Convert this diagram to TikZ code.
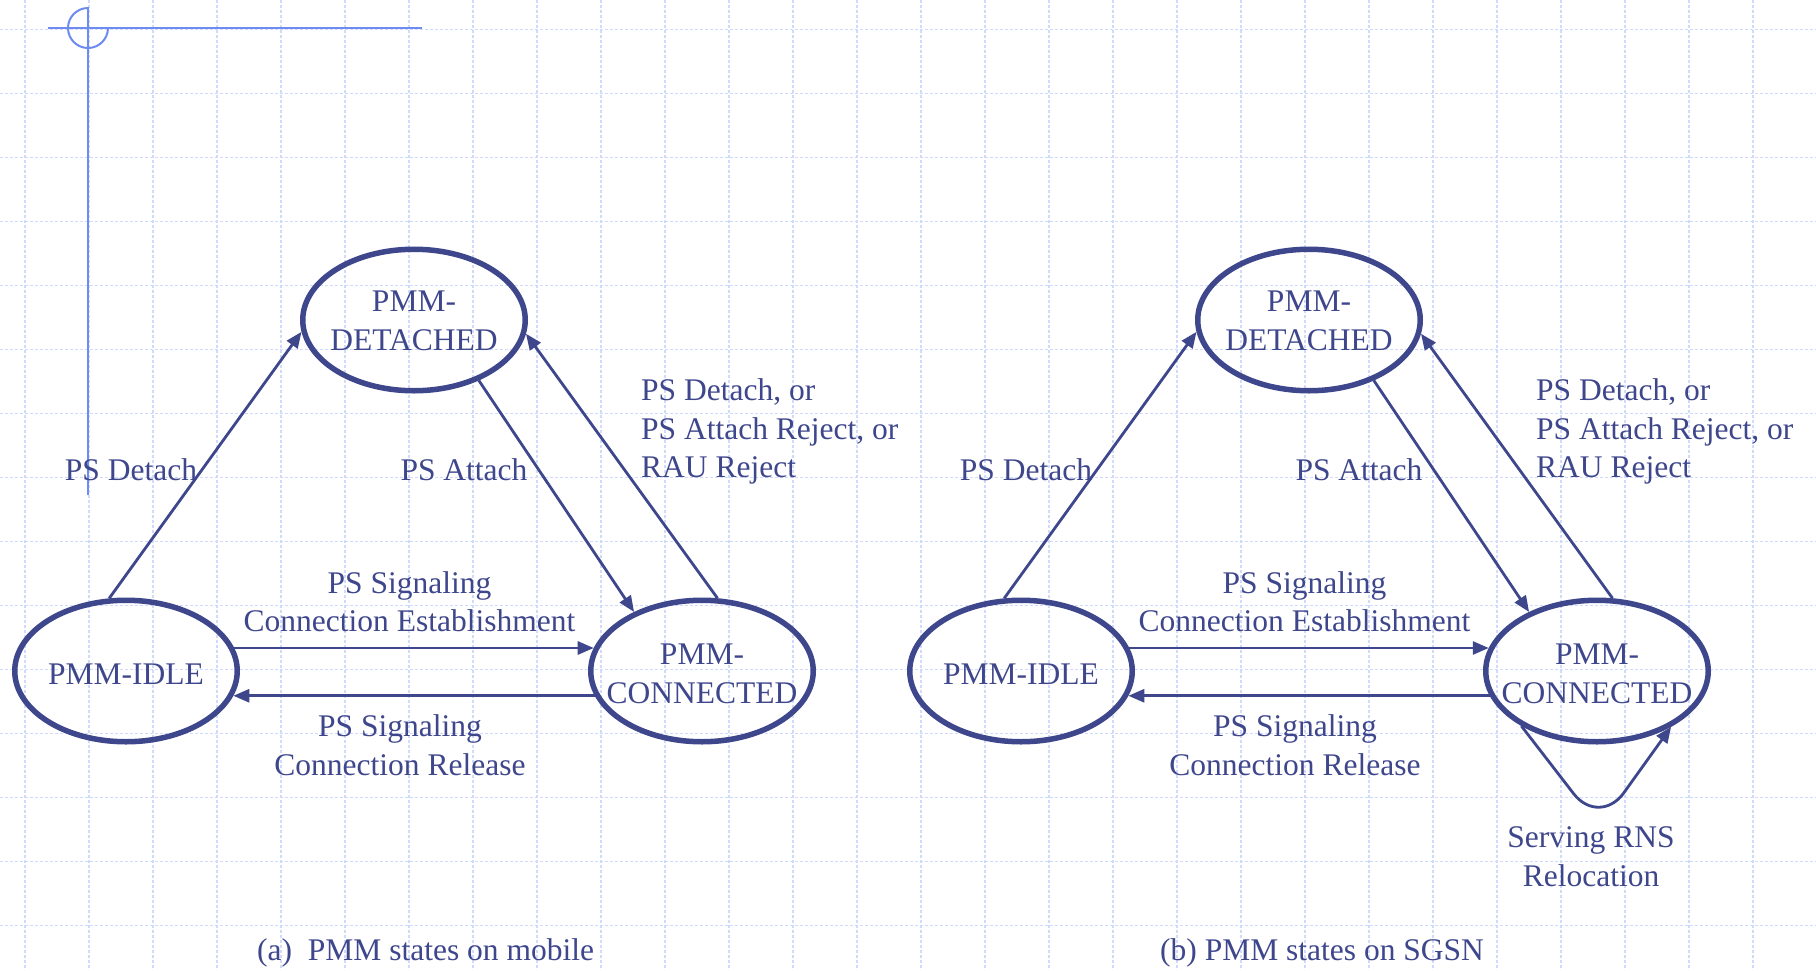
\documentclass[tikz,border=0pt]{standalone}
\usepackage{fontspec}
\setmainfont{Liberation Serif}
\usetikzlibrary{arrows.meta,shapes.geometric}
\definecolor{navy}{RGB}{62,70,140}
\definecolor{gridc}{RGB}{208,218,252}
\definecolor{deco}{RGB}{110,140,240}
\begin{document}
\begin{tikzpicture}[x=1pt,y=-1pt,
  state/.style={ellipse, draw=navy, line width=5.5pt, minimum width=222.5pt, minimum height=141.5pt, inner sep=0pt, outer sep=2.75pt},
  txt/.style={text=navy, font=\fontsize{31.5}{38.5}\selectfont, inner sep=0pt, align=center},
  txtl/.style={txt, align=left},
  arr/.style={draw=navy, line width=2.8pt, -{Triangle[length=16pt,width=13pt]}},
  gridline/.style={draw=gridc, line width=1.2pt, dash pattern=on 3pt off 2pt},
  decoline/.style={draw=deco, line width=2pt}]
\fill[white] (0,0) rectangle (1816,970);
\useasboundingbox (0,0) rectangle (1816,970);
% background grid
\foreach \k in {0,...,27} \draw[gridline] (25+64*\k,0) -- (25+64*\k,970);
\foreach \k in {0,...,14} \draw[gridline] (0,29.5+64*\k) -- (1816,29.5+64*\k);
% corner decoration
\draw[decoline] (48,28) -- (422,28);
\draw[decoline] (88,7) -- (88,495);
\draw[decoline] (88,8) arc[start angle=90, end angle=360, radius=20pt];

% ---------- (a) mobile ----------
\node[state] (det1) at (414,320) {};
\node[state] (idle1) at (126,671) {};
\node[state] (con1) at (702,671) {};
\node[txt] (det1t) at ([yshift=-1pt]det1.center) {PMM-\\DETACHED};
\node[txt] (idle1t) at ([yshift=-3pt]idle1.center) {PMM-IDLE};
\node[txt] (con1t) at ([yshift=-3pt]con1.center) {PMM-\\CONNECTED};

\draw[arr] (idle1.103) -- (det1.186);
\draw[arr] (det1.-43) -- (con1.139);
\draw[arr] (con1.78) -- (det1.-7.5);
\draw[arr] (idle1.12) -- (con1.168);
\draw[arr] (con1.193) -- (idle1.-13);

\node[txt, anchor=base] (l1a) at (131,480) {PS Detach};
\node[txt, anchor=base] (l1b) at (464,480) {PS Attach};
\node[txtl, anchor=west] (l1c) at (641,431.7) {PS Detach, or\\PS Attach Reject, or\\RAU Reject};
\node[txt] (l1d) at (409.5,601.8) {PS Signaling\\Connection Establishment};
\node[txt] (l1e) at (400,745.3) {PS Signaling\\Connection Release};
\node[txt, anchor=base west] (cap1) at (257,960) {(a)\ \ PMM states on mobile};

% ---------- (b) SGSN ----------
\node[state] (det2) at (1309,320) {};
\node[state] (idle2) at (1021,671) {};
\node[state] (con2) at (1597,671) {};
\node[txt] (det2t) at ([yshift=-1pt]det2.center) {PMM-\\DETACHED};
\node[txt] (idle2t) at ([yshift=-3pt]idle2.center) {PMM-IDLE};
\node[txt] (con2t) at ([yshift=-3pt]con2.center) {PMM-\\CONNECTED};

\draw[arr] (idle2.103) -- (det2.186);
\draw[arr] (det2.-43) -- (con2.139);
\draw[arr] (con2.78) -- (det2.-7.5);
\draw[arr] (idle2.12) -- (con2.168);
\draw[arr] (con2.193) -- (idle2.-13);
\draw[arr, rounded corners=42pt] (con2.216) -- ++(78,101) -- (con2.-37);

\node[txt, anchor=base] (l2a) at (1026,480) {PS Detach};
\node[txt, anchor=base] (l2b) at (1359,480) {PS Attach};
\node[txtl, anchor=west] (l2c) at (1536,431.7) {PS Detach, or\\PS Attach Reject, or\\RAU Reject};
\node[txt] (l2d) at (1304.5,601.8) {PS Signaling\\Connection Establishment};
\node[txt] (l2e) at (1295,745.3) {PS Signaling\\Connection Release};
\node[txt] (l2f) at (1591,856.7) {Serving RNS\\Relocation};
\node[txt, anchor=base west] (cap2) at (1160,960) {(b) PMM states on SGSN};
\end{tikzpicture}
\end{document}
